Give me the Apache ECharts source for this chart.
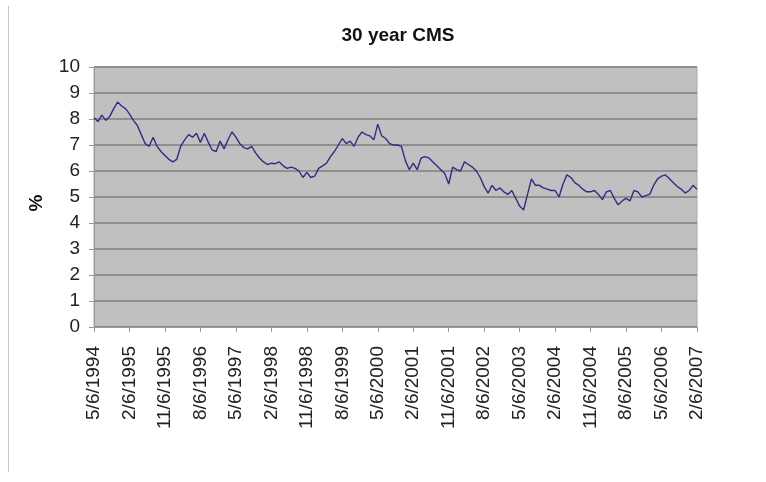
<!DOCTYPE html>
<html>
<head>
<meta charset="utf-8">
<script src="https://cdn.jsdelivr.net/npm/echarts@6/dist/echarts.min.js"></script>
<style>
  html, body { margin: 0; padding: 0; background: #fff; }
  #main { width: 766px; height: 482px; }
</style>
</head>
<body>
<div id="main"></div>
<script>
// 30 year CMS, monthly readings from 5/6/1994 to 2/6/2007
var startMonth = 5, startYear = 1994;
var cms = [
  8.05, 7.9, 8.15, 7.95, 8.1, 8.4, 8.65, 8.5, 8.4, 8.2,
  7.95, 7.75, 7.4, 7.05, 6.95, 7.3, 6.95, 6.75, 6.6, 6.45,
  6.35, 6.45, 6.95, 7.2, 7.4, 7.3, 7.45, 7.1, 7.45, 7.1,
  6.8, 6.75, 7.15, 6.85, 7.2, 7.5, 7.3, 7.05, 6.9, 6.85,
  6.95, 6.7, 6.5, 6.35, 6.25, 6.3, 6.28, 6.35, 6.2, 6.1,
  6.15, 6.1, 6.0, 5.75, 5.95, 5.75, 5.8, 6.1, 6.2, 6.3,
  6.55, 6.75, 7.0, 7.25, 7.05, 7.15, 6.95, 7.3, 7.5, 7.4,
  7.35, 7.2, 7.8, 7.35, 7.25, 7.05, 7.0, 7.0, 6.95, 6.4,
  6.05, 6.3, 6.05, 6.5, 6.55, 6.5, 6.35, 6.2, 6.05, 5.9,
  5.5, 6.15, 6.05, 6.0, 6.35, 6.25, 6.15, 6.0, 5.75, 5.4,
  5.15, 5.45, 5.25, 5.35, 5.2, 5.1, 5.25, 4.95, 4.65, 4.5,
  5.1, 5.7, 5.45, 5.45, 5.35, 5.3, 5.25, 5.25, 5.0, 5.5,
  5.85, 5.75, 5.55, 5.45, 5.3, 5.2, 5.2, 5.25, 5.1, 4.9,
  5.2, 5.25, 4.95, 4.7, 4.85, 4.95, 4.85, 5.25, 5.2, 5.0,
  5.05, 5.1, 5.45, 5.7, 5.8, 5.85, 5.7, 5.55, 5.4, 5.3,
  5.15, 5.25, 5.45, 5.3
];
var yTicks = [0, 1, 2, 3, 4, 5, 6, 7, 8, 9, 10];

// dates "m/6/yyyy", one per month
var dates = [];
for (var i = 0; i < cms.length; i++) {
  var m = (startMonth - 1 + i) % 12 + 1;
  var y = startYear + Math.floor((startMonth - 1 + i) / 12);
  dates.push(m + '/6/' + y);
}

var chart = echarts.init(document.getElementById('main'));
var font = 'Liberation Sans, Arial, Helvetica, sans-serif';

var option = {
  animation: false,
  title: {
    text: '30 year CMS',
    left: 393,
    textAlign: 'center',
    top: 21,
    textStyle: { fontFamily: font, fontSize: 19, fontWeight: 'bold', color: '#111' }
  },
  grid: {
    left: 94, right: 69, top: 67, bottom: 155,
    show: true,
    backgroundColor: '#C0C0C0',
    borderColor: '#a8a8a8',
    borderWidth: 1
  },
  xAxis: {
    type: 'category',
    data: dates,
    boundaryGap: false,
    axisLine: { lineStyle: { color: '#999', width: 1 } },
    axisTick: { show: true, interval: 8, length: 5, lineStyle: { color: '#999' } },
    axisLabel: {
      interval: 8,
      rotate: 90,
      margin: 19,
      fontFamily: font,
      fontSize: 19,
      color: '#222'
    },
    splitLine: { show: false }
  },
  yAxis: {
    type: 'value',
    min: yTicks[0],
    max: yTicks[yTicks.length - 1],
    interval: 1,
    name: '%',
    nameLocation: 'middle',
    nameGap: 48,
    nameRotate: 90,
    nameTextStyle: { fontFamily: font, fontSize: 19, fontWeight: 'bold', color: '#111', padding: [0, 12, 0, 0] },
    axisLine: { show: true, lineStyle: { color: '#999' } },
    axisTick: { show: true, length: 5, lineStyle: { color: '#999' } },
    axisLabel: { margin: 14, fontFamily: font, fontSize: 19, color: '#222' },
    splitLine: { show: true, lineStyle: { color: '#7f7f7f', width: 1.5 } }
  },
  series: [{
    type: 'line',
    data: cms,
    showSymbol: false,
    lineStyle: { color: '#2e2e86', width: 1.4 },
    itemStyle: { color: '#2e2e86' }
  }],
  graphic: [{
    type: 'line',
    shape: { x1: 8.5, y1: 6, x2: 8.5, y2: 472 },
    style: { stroke: '#c8c8c8', lineWidth: 1 }
  }]
};
chart.setOption(option);
</script>
</body>
</html>
